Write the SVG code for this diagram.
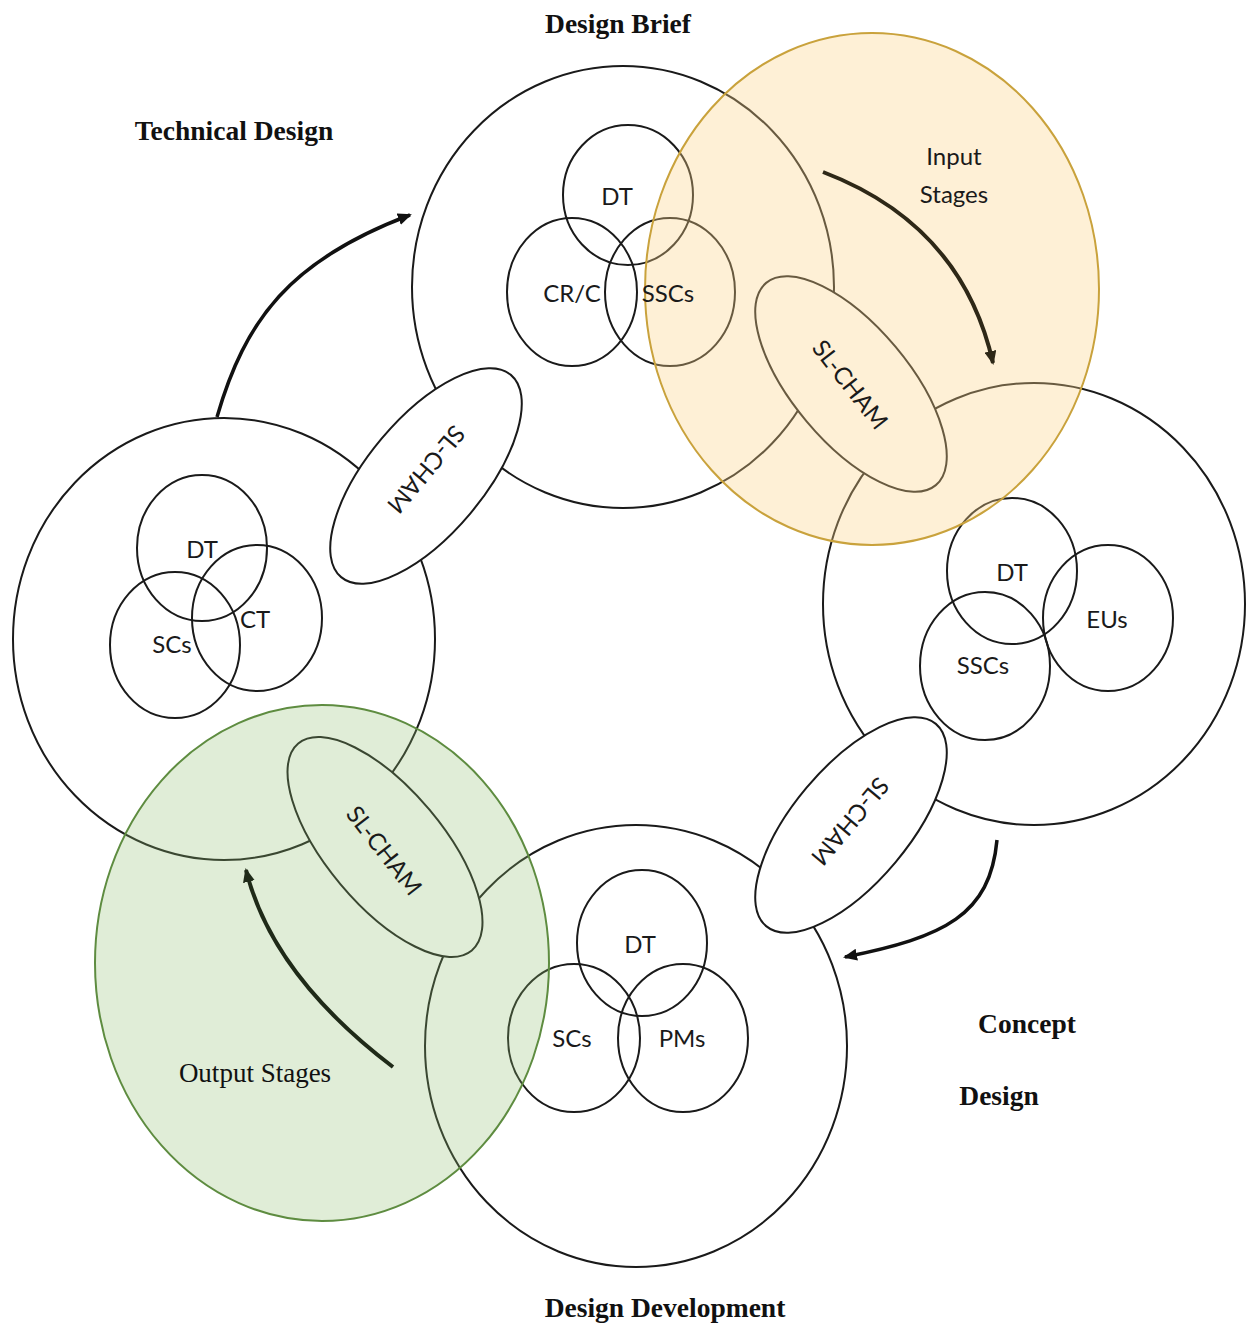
<svg xmlns="http://www.w3.org/2000/svg" width="1256" height="1327" viewBox="0 0 1256 1327">
<style>
.big{fill:none;stroke:#1a1a1a;stroke-width:2}
.in{fill:none;stroke:#1a1a1a;stroke-width:2}
.sl{fill:#fff;stroke:#1a1a1a;stroke-width:2}
.lbl{font-family:Lato,"Open Sans",sans-serif;font-size:24px;fill:#1a1a1a;text-anchor:middle;dominant-baseline:central}
.title{font-family:"Liberation Serif","Times New Roman",serif;font-size:27.5px;font-weight:bold;fill:#111;text-anchor:middle}
.arr{fill:none;stroke:#111;stroke-width:3.5}
</style>
<defs>
<marker id="ah" markerWidth="14" markerHeight="12" refX="12" refY="6" orient="auto" markerUnits="userSpaceOnUse">
<path d="M0,0 L14,6 L0,12 Z" fill="#111"/>
</marker>
<marker id="ahy" markerWidth="14" markerHeight="12" refX="12" refY="6" orient="auto" markerUnits="userSpaceOnUse">
<path d="M0,0 L14,6 L0,12 Z" fill="#2e2817"/>
</marker>
<marker id="ahg" markerWidth="14" markerHeight="12" refX="12" refY="6" orient="auto" markerUnits="userSpaceOnUse">
<path d="M0,0 L14,6 L0,12 Z" fill="#1f2a18"/>
</marker>
</defs>

<g id="stage-technical-design">
<ellipse class="big" cx="224" cy="639" rx="211" ry="221"/>
<ellipse class="in" cx="202" cy="548" rx="65" ry="73"/>
<ellipse class="in" cx="175" cy="645" rx="65" ry="73"/>
<ellipse class="in" cx="257" cy="618" rx="65" ry="73"/>
</g>
<g id="stage-design-brief">
<ellipse class="big" cx="623" cy="287" rx="211" ry="221"/>
<ellipse class="in" cx="628" cy="195" rx="65" ry="70"/>
<ellipse class="in" cx="572" cy="292" rx="65" ry="74"/>
<ellipse class="in" cx="670" cy="292" rx="65" ry="74"/>
</g>
<g id="stage-concept-design">
<ellipse class="big" cx="1034" cy="604" rx="211" ry="221"/>
<ellipse class="in" cx="1012" cy="571" rx="65" ry="73"/>
<ellipse class="in" cx="985" cy="666" rx="65" ry="74"/>
<ellipse class="in" cx="1108" cy="618" rx="65" ry="73"/>
</g>
<g id="stage-design-development">
<ellipse class="big" cx="636" cy="1046" rx="211" ry="221"/>
<ellipse class="in" cx="642" cy="943" rx="65" ry="73"/>
<ellipse class="in" cx="574" cy="1038" rx="66" ry="74"/>
<ellipse class="in" cx="683" cy="1038" rx="65" ry="74"/>
</g>

<g id="slcham-a"><ellipse class="sl" cx="426" cy="476" rx="132" ry="58" transform="rotate(-50 426 476)"/></g>
<g id="slcham-b"><ellipse class="sl" cx="851" cy="384" rx="132" ry="58" transform="rotate(50 851 384)"/></g>
<g id="slcham-c"><ellipse class="sl" cx="851" cy="825" rx="132" ry="58" transform="rotate(-50 851 825)"/></g>
<g id="slcham-d"><ellipse class="sl" cx="385" cy="847" rx="135" ry="58" transform="rotate(50 385 847)"/></g>

<g id="input-stages">
<ellipse cx="872" cy="289" rx="227" ry="256" fill="#fbd58a" fill-opacity="0.35" stroke="#c9a23c" stroke-width="2"/>
<text class="lbl" x="954" y="155">Input</text>
<text class="lbl" x="954" y="193">Stages</text>
</g>
<g id="output-stages">
<ellipse cx="322" cy="963" rx="227" ry="258" fill="#8fbf6f" fill-opacity="0.28" stroke="#5e8c40" stroke-width="2"/>
<text x="255" y="1082" font-family="Liberation Serif,serif" font-size="27" fill="#111" text-anchor="middle">Output Stages</text>
</g>

<g id="connectors">
<path class="arr" d="M217,417 C245,320 290,260 410,215" marker-end="url(#ah)"/>
<path class="arr" d="M823,172 Q962,225 993,363" stroke="#2e2817" style="stroke:#2e2817;stroke-width:4" marker-end="url(#ahy)"/>
<path class="arr" d="M997,840 C990,915 945,937 845,957" marker-end="url(#ah)"/>
<path class="arr" d="M393,1067 Q272,975 246,870" style="stroke:#1f2a18;stroke-width:4" marker-end="url(#ahg)"/>
</g>

<g id="labels">
<text class="lbl" x="202" y="548">DT</text>
<text class="lbl" x="172" y="643">SCs</text>
<text class="lbl" x="255" y="618">CT</text>
<text class="lbl" x="617" y="195">DT</text>
<text class="lbl" x="572" y="292">CR/C</text>
<text class="lbl" x="668" y="292">SSCs</text>
<text class="lbl" x="1012" y="571">DT</text>
<text class="lbl" x="983" y="664">SSCs</text>
<text class="lbl" x="1107" y="618">EUs</text>
<text class="lbl" x="640" y="943">DT</text>
<text class="lbl" x="572" y="1037">SCs</text>
<text class="lbl" x="682" y="1037">PMs</text>
<text class="lbl" transform="translate(427,470) rotate(130)">SL-CHAM</text>
<text class="lbl" transform="translate(851,384) rotate(52)">SL-CHAM</text>
<text class="lbl" transform="translate(851,822) rotate(130)">SL-CHAM</text>
<text class="lbl" transform="translate(385,850) rotate(52)">SL-CHAM</text>
</g>

<g id="titles">
<text class="title" x="618" y="33">Design Brief</text>
<text class="title" x="234" y="140">Technical Design</text>
<text class="title" x="1027" y="1033">Concept</text>
<text class="title" x="999" y="1105">Design</text>
<text class="title" x="665" y="1317">Design Development</text>
</g>
</svg>
